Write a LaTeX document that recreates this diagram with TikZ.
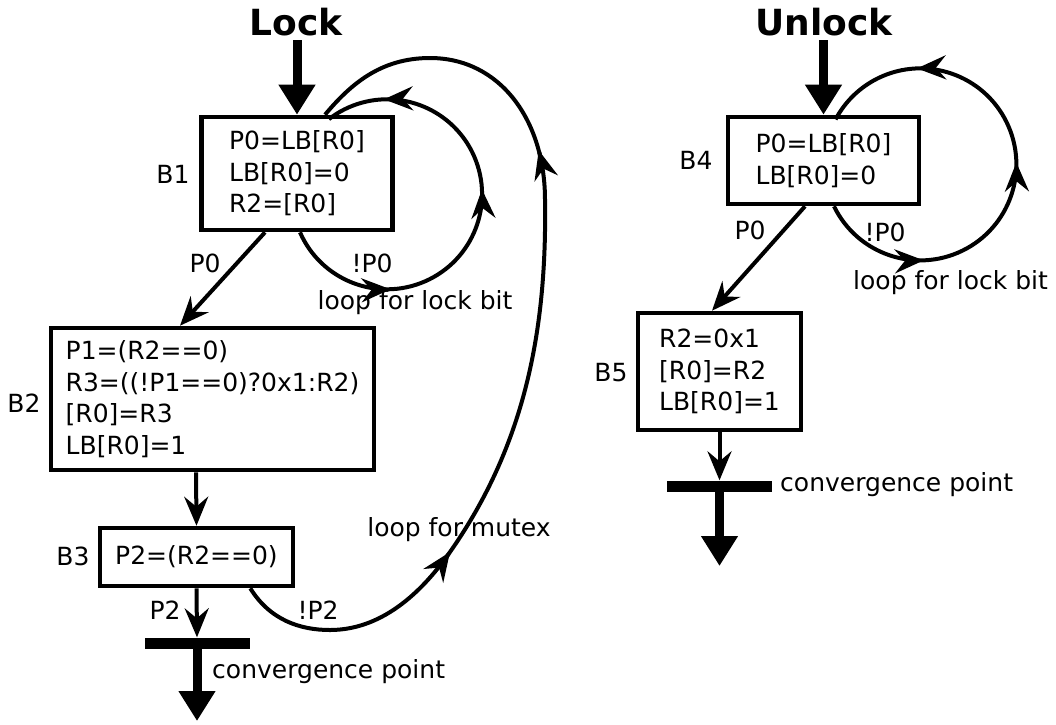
\documentclass[tikz,border=0pt]{standalone}
\usepackage{fontspec}
\setmainfont{DejaVu Sans}
\usetikzlibrary{arrows.meta,decorations.markings,calc}
\tikzset{Barb/.tip={Stealth[length=29pt,width=24pt,inset=10pt]}}
\begin{document}
\begin{tikzpicture}[x=1pt,y=1pt,
  txt/.style={font=\fontsize{25}{31.5}\selectfont, inner sep=0pt},
  title/.style={font=\fontsize{36}{40}\selectfont\bfseries, inner sep=0pt},
  blk/.style={draw, line width=4.6pt, align=left, font=\fontsize{25}{31.5}\selectfont, inner sep=0pt},
  arr/.style={line width=4pt, -{Barb}},
  bigarr/.style={line width=9pt, -{Triangle[length=30pt,width=35pt]}},
  bar/.style={fill=black, inner sep=0pt, minimum width=105pt, minimum height=11pt},
  lp/.style={line width=4pt},
  midarrows/.style args={#1/#2/#3}{postaction={decorate}, decoration={markings,
    mark=at position #1 with {\arrow{Barb}},
    mark=at position #2 with {\arrow{Barb}},
    mark=at position #3 with {\arrow{Barb}}}}
  ]
\useasboundingbox (0,0) rectangle (1056,-724);

% titles
\node[title] (lock) at (296,-22) {Lock};
\node[title] (unlock) at (824,-22) {Unlock};

% blocks
\node[blk, minimum width=191pt, minimum height=113pt] (b1) at (297,-173.5) {P0=LB[R0]\\LB[R0]=0\\R2=[R0]};
\node[blk, minimum width=323pt, minimum height=142pt] (b2) at (212.5,-399) {P1=(R2==0)\\R3=((!P1==0)?0x1:R2)\\{}[R0]=R3\\LB[R0]=1};
\node[blk, minimum width=193pt, minimum height=58pt] (b3) at (196.5,-557) {P2=(R2==0)};
\node[blk, minimum width=191pt, minimum height=87pt] (b4) at (823.5,-160.5) {P0=LB[R0]\\LB[R0]=0};
\node[blk, minimum width=163pt, minimum height=117pt] (b5) at (719.5,-371.5) {R2=0x1\\{}[R0]=R2\\LB[R0]=1};

% block labels
\node[txt] (lb1) at (173,-174) {B1};
\node[txt] (lb2) at (24,-403) {B2};
\node[txt] (lb3) at (73,-556) {B3};
\node[txt] (lb4) at (696,-160) {B4};
\node[txt] (lb5) at (611,-373) {B5};

% convergence bars
\node[bar] (bar1) at (197,-643) {};
\node[bar] (bar2) at (719.5,-486) {};

% entry / exit arrows
\coordinate (lockin) at (297,-40);
\coordinate (unlockin) at (823.5,-40);
\coordinate (out1) at (197,-721);
\coordinate (out2) at (719.5,-566);
\draw[bigarr] (lockin) -- (b1.north);
\draw[bigarr] (unlockin) -- (b4.north);
\draw[bigarr] (bar1.center) -- (out1);
\draw[bigarr] (bar2.center) -- (out2);

% straight connectors
\draw[arr] ([xshift=-32pt]b1.south) -- ([xshift=-32.5pt]b2.north);
\draw[arr] ([xshift=-16.5pt]b2.south) -- (b3.north);
\draw[arr] (b3.south) -- (bar1.north);
\draw[arr] ([xshift=-18.5pt]b4.south) -- ([xshift=-7.5pt]b5.north);
\draw[arr] (b5.south) -- (bar2.north);

% lock-bit loops
\draw[lp, midarrows=0.241/0.561/0.874] ([xshift=3pt]b1.south) arc[start angle=203.6, end angle=487.7, radius=95pt];
\draw[lp, midarrows=0.216/0.507/0.804] ([xshift=10.5pt]b4.south) arc[start angle=205.9, end angle=512.05, radius=96pt];

% mutex loop
\coordinate (m1) at (450,-552);
\coordinate (m2) at (538.7,-150.3);
\draw[lp] ([xshift=-45pt]b3.south east) .. controls (270,-620) and (300,-630) .. (330,-630)
  .. controls (380,-630) and (420,-595) .. (m1)
  .. controls (525,-445) and (547,-330) .. (545,-200)
  .. controls (545,-120) and (500,-58) .. (430,-58)
  .. controls (380,-58) and (350,-85) .. ([xshift=28pt]b1.north);
\draw[arr] ($(m1)+(235:2pt)$) -- (m1);
\draw[arr] ($(m2)+(285:2pt)$) -- (m2);

% edge labels
\node[txt] (p0a) at (205,-263) {P0};
\node[txt] (np0a) at (372,-263) {!P0};
\node[txt] (lfl1) at (415,-303) {loop for lock bit};
\node[txt] (p2) at (165,-610) {P2};
\node[txt] (np2) at (318,-610) {!P2};
\node[txt] (lfm) at (459,-530) {loop for mutex};
\node[txt, anchor=west] (cp1) at (212,-672) {convergence point};
\node[txt] (p0b) at (750,-230) {P0};
\node[txt] (np0b) at (885,-232) {!P0};
\node[txt, anchor=west] (lfl2) at (853,-283) {loop for lock bit};
\node[txt, anchor=west] (cp2) at (780,-485) {convergence point};
\end{tikzpicture}
\end{document}
